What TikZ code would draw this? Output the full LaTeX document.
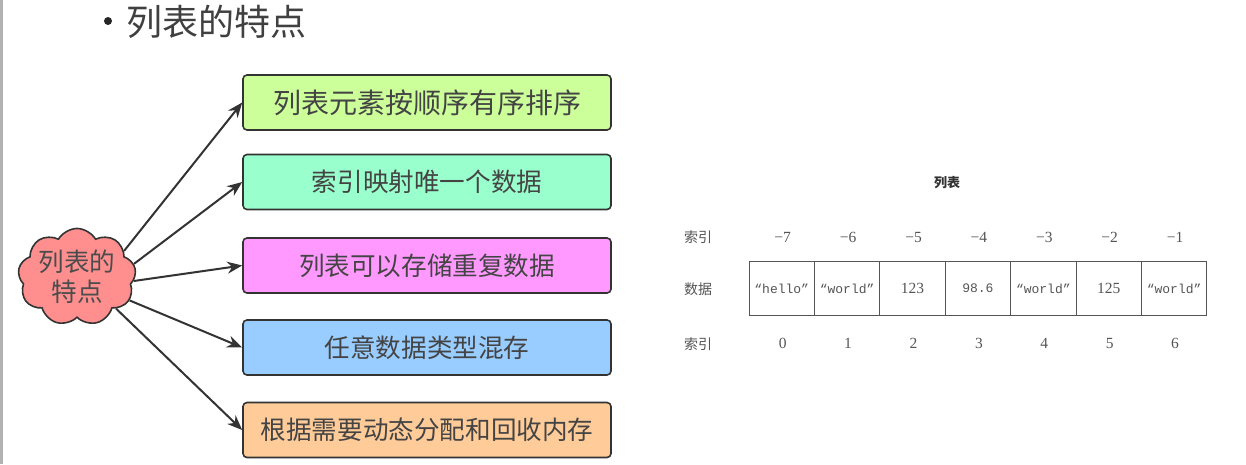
\documentclass[tikz,border=0pt]{standalone}
\usepackage{fontspec}
\usetikzlibrary{arrows.meta,shapes.symbols}
\newfontfamily\cjk{Noto Sans CJK SC}
\newfontfamily\mono{Liberation Mono}
\newfontfamily\serifnum{Liberation Serif}
\definecolor{lineclr}{HTML}{333333}
\definecolor{txtclr}{HTML}{444444}
\definecolor{b1clr}{HTML}{CCFF99}
\definecolor{b2clr}{HTML}{99FFCC}
\definecolor{b3clr}{HTML}{FF99FF}
\definecolor{b4clr}{HTML}{99CCFF}
\definecolor{b5clr}{HTML}{FFCC99}
\definecolor{cloudclr}{HTML}{FF8F8F}
\definecolor{tblclr}{HTML}{555555}
\tikzset{
  featbox/.style={draw=lineclr, line width=1.6pt, rounded corners=4pt,
    minimum width=368pt, minimum height=55pt, inner sep=0pt, text=txtclr,
    font=\cjk\fontsize{25.6}{30}\selectfont},
  arr/.style={draw=lineclr, line width=2pt, -{Stealth[length=15pt,width=12pt]}},
  cell/.style={draw=tblclr, line width=0.9pt, minimum width=65.4pt, minimum height=54pt, inner sep=0pt, text=tblclr},
  lbl/.style={text=tblclr, font=\cjk\fontsize{14}{16}\selectfont, inner sep=0pt},
  num/.style={text=tblclr, font=\serifnum\fontsize{15.5}{17}\selectfont, inner sep=0pt},
}
\begin{document}
\begin{tikzpicture}[x=1pt,y=-1pt]
\useasboundingbox (0,0) rectangle (1246,464);
\fill[white] (0,0) rectangle (1246,464);
\draw[gray!60, line width=2.5pt] (1.5,0) -- (1.5,464);
% title
\fill[black!85] (108,21) circle (4pt);
\node[anchor=west, inner sep=0pt, text=black!75, font=\cjk\fontsize{36}{40}\selectfont] (title) at (126,22) {列表的特点};
% cloud
\node[cloud, cloud puffs=9, cloud puff arc=120, aspect=1.35, draw=lineclr, line width=1.6pt,
  fill=cloudclr, minimum width=112pt, minimum height=84pt, inner sep=0pt, align=center,
  text=black!70, font=\cjk\fontsize{25.6}{30}\selectfont] (cloud) at (77,277) {列表的\\特点};
% boxes
\node[featbox, fill=b1clr, font=\cjk\fontsize{28}{32}\selectfont] (b1) at (427,102.5) {列表元素按顺序有序排序};
\node[featbox, fill=b2clr] (b2) at (427,182) {索引映射唯一个数据};
\node[featbox, fill=b3clr] (b3) at (427,265.5) {列表可以存储重复数据};
\node[featbox, fill=b4clr] (b4) at (427,347.5) {任意数据类型混存};
\node[featbox, fill=b5clr] (b5) at (427,430) {根据需要动态分配和回收内存};
% arrows
\draw[arr] (cloud.29) -- (b1.west);
\draw[arr] (cloud.13) -- (b2.west);
\draw[arr] (cloud.-4) -- (b3.west);
\draw[arr] (cloud.-24) -- (b4.west);
\draw[arr] (cloud.-39) -- (b5.west);
% table
\node[lbl, font=\cjk\bfseries\fontsize{13}{15}\selectfont, text=black!80] (ttl) at (947,183) {列表};
\node[lbl] (lt) at (698,237) {索引};
\node[lbl] (ld) at (698,289) {数据};
\node[lbl] (lb) at (698,344) {索引};
\foreach \i/\v/\f/\s in {0/“hello”/\mono/13, 1/“world”/\mono/13, 2/123/\serifnum/15.5, 3/98.6/\mono/13, 4/“world”/\mono/13, 5/125/\serifnum/15.5, 6/“world”/\mono/13}{
  \node[cell, font=\f\fontsize{\s}{17}\selectfont] (c\i) at ({781.7+65.4*\i},288.5) {\v};
}
\foreach \i/\n in {0/−7,1/−6,2/−5,3/−4,4/−3,5/−2,6/−1}{
  \node[num] (t\i) at ({782.7+65.4*\i},237) {\n};
}
\foreach \i in {0,...,6}{
  \node[num] (p\i) at ({782.7+65.4*\i},343.5) {\i};
}
\end{tikzpicture}
\end{document}
